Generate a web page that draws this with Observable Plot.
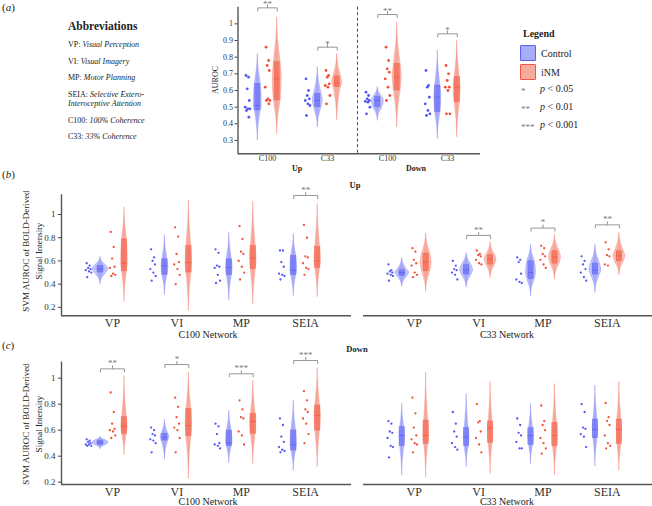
<!DOCTYPE html>
<html><head><meta charset="utf-8">
<script src="https://cdn.jsdelivr.net/npm/d3@7"></script>
<script src="https://cdn.jsdelivr.net/npm/@observablehq/plot@0.6"></script>
<style>
body{margin:0;background:#fff;}
#fig{position:relative;width:652px;height:506px;font-family:"Liberation Serif","Times New Roman",serif;color:#222;overflow:hidden;background:#fff}
.abs{position:absolute;white-space:nowrap;line-height:1}
</style></head>
<body><div id="fig"></div>
<script>
// ---------------- DATA ----------------
const series = ["Control", "iNM"];
const groupsA = ["C100", "C33", "C100", "C33"];
const directionsA = ["Up", "Down"];
const tasks = ["VP", "VI", "MP", "SEIA"];
const yTicksA = [0.3, 0.4, 0.5, 0.6, 0.7, 0.8, 0.9, 1];
const yTicksBC = [0.2, 0.4, 0.6, 0.8, 1];
const abbrevKeys = ["VP:", "VI:", "MP:", "SEIA:", "", "C100:", "C33:"];
const abbrevVals = ["Visual Perception", "Visual Imagery", "Motor Planning", "Selective Extero-", "Interoceptive Attention", "100% <i>Coherence</i>", "33% <i>Coherence</i>"];
const legendSig = ["*", "**", "***"];
const legendP = ["0.05", "0.01", "0.001"];

// violin summaries: [min, q1, median, q3, max, density width]
// Panel (a): C100 Up, C33 Up, C100 Down, C33 Down
const aControlViolin = [[0.30,0.48,0.51,0.64,0.82,4],[0.38,0.50,0.54,0.58,0.74,5],[0.42,0.50,0.54,0.56,0.62,6],[0.31,0.47,0.56,0.63,0.84,3.5]];
const aINMViolin = [[0.34,0.54,0.67,0.77,1.04,4.5],[0.42,0.62,0.645,0.685,0.82,5],[0.38,0.60,0.68,0.76,1.01,4.5],[0.32,0.53,0.62,0.68,0.90,3.5]];
const aControlPts = [[0.69,0.68,0.61,0.54,0.50,0.49,0.49,0.48,0.44],[0.67,0.60,0.57,0.55,0.54,0.52,0.51,0.45],[0.59,0.57,0.55,0.54,0.535,0.53,0.50,0.46],[0.72,0.63,0.62,0.56,0.52,0.48,0.46,0.45]];
const aINMPts = [[0.86,0.78,0.75,0.72,0.62,0.55,0.54,0.54,0.52],[0.72,0.69,0.68,0.64,0.63,0.62,0.57,0.52],[0.86,0.78,0.73,0.71,0.67,0.62,0.57,0.54],[0.75,0.70,0.66,0.62,0.62,0.60,0.46,0.46]];
const aSig = [[0,1.096,"**"],[1,0.86,"*"],[2,1.056,"**"],[3,0.94,"*"]];

// Panel (b) Up, C100 network
const upC100ControlViolin = [[0.40,0.50,0.53,0.557,0.634,8],[0.31,0.48,0.557,0.614,0.826,3.4],[0.26,0.477,0.543,0.614,0.843,3.4],[0.30,0.477,0.52,0.643,0.834,3.4]];
const upC100INMViolin = [[0.25,0.51,0.58,0.786,1.063,3.3],[0.17,0.50,0.586,0.729,1.12,3.3],[0.226,0.529,0.626,0.729,1.11,3.3],[0.29,0.54,0.60,0.72,1.09,3.3]];
const upC100ControlPts = [[0.58,0.56,0.54,0.53,0.52,0.51,0.50,0.46],[0.70,0.63,0.60,0.57,0.53,0.50,0.47,0.43],[0.70,0.67,0.56,0.55,0.54,0.48,0.43,0.41],[0.69,0.69,0.59,0.55,0.49,0.48,0.47,0.44]];
const upC100INMPts = [[0.85,0.72,0.62,0.55,0.54,0.49,0.48,0.47],[0.89,0.81,0.66,0.59,0.57,0.53,0.48,0.40],[0.90,0.79,0.68,0.66,0.60,0.55,0.50,0.44],[0.91,0.80,0.64,0.63,0.58,0.54,0.53,0.48]];
const upC100Sig = [[3,1.164,"**"]];

// Panel (b) Up, C33 network
const upC33ControlViolin = [[0.377,0.471,0.50,0.52,0.626,7],[0.371,0.483,0.52,0.563,0.669,6.5],[0.297,0.443,0.50,0.597,0.74,5],[0.329,0.483,0.52,0.577,0.74,6]];
const upC33INMViolin = [[0.334,0.511,0.591,0.663,0.84,5.5],[0.454,0.569,0.614,0.649,0.763,6],[0.443,0.577,0.634,0.683,0.826,6],[0.477,0.597,0.643,0.683,0.843,6]];
const upC33ControlPts = [[0.57,0.52,0.51,0.50,0.49,0.48,0.47,0.43],[0.60,0.56,0.53,0.52,0.50,0.48,0.44],[0.63,0.61,0.59,0.49,0.44,0.42,0.41],[0.64,0.60,0.57,0.53,0.50,0.46,0.43]];
const upC33INMPts = [[0.71,0.68,0.61,0.58,0.56,0.50,0.48,0.46],[0.69,0.66,0.65,0.64,0.61,0.58,0.57],[0.73,0.71,0.66,0.64,0.61,0.57,0.54],[0.76,0.70,0.65,0.64,0.57,0.56]];
const upC33Sig = [[1,0.82,"**"],[2,0.883,"*"],[3,0.911,"**"]];

// Panel (c) Down, C100 network
const downC100ControlViolin = [[0.456,0.487,0.503,0.52,0.549,8],[0.374,0.52,0.546,0.572,0.682,4.5],[0.349,0.477,0.503,0.597,0.751,3.2],[0.29,0.444,0.487,0.597,0.828,3.2]];
const downC100INMViolin = [[0.41,0.572,0.631,0.70,1.015,3.2],[0.226,0.554,0.636,0.764,1.046,3.2],[0.341,0.572,0.667,0.726,0.982,3.2],[0.315,0.597,0.713,0.79,1.077,3.2]];
const downC100ControlPts = [[0.53,0.52,0.51,0.50,0.49,0.49,0.48,0.48],[0.62,0.60,0.57,0.56,0.53,0.52,0.50,0.43],[0.65,0.63,0.57,0.50,0.49,0.48,0.46],[0.69,0.64,0.55,0.51,0.47,0.45,0.44,0.43]];
const downC100INMPts = [[0.89,0.74,0.65,0.61,0.60,0.59,0.56,0.54],[0.85,0.78,0.70,0.65,0.62,0.60,0.54,0.43],[0.83,0.76,0.70,0.69,0.59,0.56,0.49],[0.90,0.83,0.76,0.74,0.69,0.65,0.57,0.50]];
const downC100Sig = [[0,1.072,"**"],[1,1.105,"*"],[2,1.034,"***"],[3,1.136,"***"]];

// Panel (c) Down, C33 network
const downC33ControlViolin = [[0.251,0.477,0.559,0.623,0.803,2.7],[0.315,0.477,0.546,0.615,0.879,2.7],[0.341,0.487,0.559,0.615,0.803,2.7],[0.323,0.538,0.605,0.682,0.944,2.7]];
const downC33INMViolin = [[0.238,0.495,0.559,0.674,1.046,2.7],[0.264,0.503,0.615,0.667,0.974,2.7],[0.256,0.477,0.559,0.656,0.956,2.7],[0.29,0.495,0.605,0.682,0.974,2.7]];
const downC33ControlPts = [[0.67,0.65,0.59,0.58,0.54,0.48,0.47,0.39],[0.74,0.65,0.59,0.55,0.50,0.47,0.45],[0.69,0.64,0.58,0.56,0.51,0.46,0.46],[0.80,0.74,0.62,0.61,0.57,0.55,0.47]];
const downC33INMPts = [[0.85,0.73,0.62,0.56,0.53,0.50,0.49,0.43],[0.80,0.67,0.66,0.59,0.54,0.49,0.43],[0.79,0.67,0.64,0.60,0.54,0.50,0.46,0.42],[0.81,0.70,0.67,0.64,0.56,0.50,0.48,0.46]];
const downC33Sig = [];

// ---------------- DRAWING ----------------
const FONT = '"Liberation Serif", "Times New Roman", serif';
const BLUE = "#5258f4", RED = "#f24f36";
const jitter = [-0.5, 0.35, -0.1, 0.6, -0.75, 0.15, 0.8, -0.35, 0.45];
const fig = document.getElementById("fig");

function txt(html, x, y, o = {}) {
  const d = document.createElement("div");
  d.className = "abs";
  d.innerHTML = html;
  d.style.left = x + "px"; d.style.top = y + "px";
  d.style.fontSize = (o.size || 10) + "px";
  if (o.bold) d.style.fontWeight = "bold";
  if (o.italic) d.style.fontStyle = "italic";
  if (o.color) d.style.color = o.color;
  let tf = o.anchor === "middle" ? "translate(-50%,-50%)" : "translate(0,-50%)";
  if (o.rotate) tf += " rotate(-90deg)";
  d.style.transform = tf;
  fig.appendChild(d);
  return d;
}
function mount(el, left, top) {
  el.style.position = "absolute"; el.style.left = left + "px"; el.style.top = top + "px";
  fig.appendChild(el);
}

function panel(c) {
  const violins = [], inner = [], boxes = [], pts = [], links = [];
  const bw = 2.7 / c.spacing;
  [["Control", c.ctrlV, c.ctrlP, -c.vOff, c.dOff], ["iNM", c.inmV, c.inmP, c.vOff, 0]].forEach(([s, V, P, vo, po]) => {
    V.forEach((r, i) => {
      const [lo, q1, med, q3, hi, w] = r;
      const cx = i + vo, ww = w / c.spacing, id = s + i;
      const prof = [[lo, 0], [lo + (q1 - lo) * 0.5, 0.2], [q1, 0.75], [med, 1], [q3, 0.75], [q3 + (hi - q3) * 0.5, 0.2], [hi, 0]];
      prof.forEach(([v, f]) => {
        violins.push({id, s, v, xl: cx - ww * f, xr: cx + ww * f});
        inner.push({id, s, v, xl: cx - ww * f * 0.55, xr: cx + ww * f * 0.55});
      });
      boxes.push({s, x1: cx - bw, x2: cx + bw, q1, q3, med});
      P[i].forEach((v, k) => pts.push({s, v, x: i + po + jitter[k % jitter.length] * c.jit / c.spacing}));
    });
  });
  const tick = 3.5 / c.pxPerV;
  c.sig.forEach(([i, b]) => {
    const xa = i - c.vOff, xb = i + c.vOff;
    links.push({x1: xa, y1: b, x2: xb, y2: b});
    links.push({x1: xa, y1: b, x2: xa, y2: b - tick});
    links.push({x1: xb, y1: b, x2: xb, y2: b - tick});
    links.push({x1: i, y1: b, x2: i, y2: b + tick});
  });
  const marks = [];
  if (c.showY) {
    marks.push(Plot.axisY(c.yTicks, {tickSize: c.yTickSize, tickPadding: c.yTickPad, fontSize: c.yFont, tickFormat: d => String(+d.toFixed(1)), stroke: "#444", label: null}));
    marks.push(Plot.ruleX([c.xDomain[0]], {stroke: "#555", strokeWidth: 1.4}));
  }
  marks.push(Plot.axisX(d3.range(c.cats.length), {tickSize: 0, tickPadding: c.xTickPad, fontSize: c.xFont, tickFormat: i => c.cats[i], label: null}));
  marks.push(Plot.ruleY([c.yDomain[0]], {stroke: "#555", strokeWidth: 1.4}));
  if (c.extra) marks.push(...c.extra);
  marks.push(
    Plot.areaX(violins, {y: "v", x1: "xl", x2: "xr", z: "id", fill: "s", fillOpacity: 0.36, stroke: "s", strokeOpacity: 0.5, strokeWidth: 0.5, curve: "monotone-y"}),
    Plot.areaX(inner, {y: "v", x1: "xl", x2: "xr", z: "id", fill: "s", fillOpacity: 0.25, curve: "monotone-y"}),
    Plot.rect(boxes, {x1: "x1", x2: "x2", y1: "q1", y2: "q3", fill: "s", fillOpacity: 0.5, stroke: "s", strokeOpacity: 0.6, strokeWidth: 0.5}),
    Plot.ruleY(boxes, {y: "med", x1: "x1", x2: "x2", stroke: "s", strokeOpacity: 0.9, strokeWidth: 0.7}),
    Plot.dot(pts, {x: "x", y: "v", r: c.dotR, fill: "s", stroke: null}),
    Plot.link(links, {x1: "x1", y1: "y1", x2: "x2", y2: "y2", stroke: "#8a8a8a", strokeWidth: 0.9}),
    Plot.text(c.sig, {x: d => d[0], y: d => d[1], text: d => d[2], dy: c.starDy, fontSize: 9, fill: "#777"})
  );
  return Plot.plot({
    width: c.width, height: c.height,
    marginLeft: c.mL, marginRight: c.mR, marginTop: c.mT, marginBottom: c.mB,
    x: {domain: c.xDomain},
    y: c.showY ? {domain: c.yDomain} : {domain: c.yDomain, axis: null},
    color: {domain: series, range: [BLUE, RED]},
    style: {fontFamily: FONT, color: "#333", background: "transparent", overflow: "visible"},
    marks
  });
}

// Panel (a)
mount(panel({
  cats: groupsA, ctrlV: aControlViolin, inmV: aINMViolin, ctrlP: aControlPts, inmP: aINMPts, sig: aSig,
  width: 290, height: 180, mL: 37.5, mR: 10, mT: 6.7, mB: 26.7,
  yDomain: [0.22, 1.1], xDomain: [-29.5 / 60, 213 / 60], yTicks: yTicksA, showY: true,
  spacing: 60, vOff: 0.162, dOff: -0.333, pxPerV: 166.7, jit: 3, dotR: 1.4,
  yFont: 8, xFont: 8, yTickSize: 3, yTickPad: 2, xTickPad: 2, starDy: -3.5,
  extra: [Plot.ruleX([(groupsA.length - 1) / 2], {stroke: "#333", strokeDasharray: "3,2.5", strokeWidth: 0.9})]
}), 200, 0);

const bcCommon = {spacing: 64.4, vOff: 0.186, dOff: -0.373, jit: 3.5, dotR: 1.15, yFont: 9, xFont: 12,
  yTickSize: 3, yTickPad: 3, xTickPad: 3, starDy: -5.5, yTicks: yTicksBC, cats: tasks};

mount(panel({...bcCommon, ctrlV: upC100ControlViolin, inmV: upC100INMViolin, ctrlP: upC100ControlPts, inmP: upC100INMPts, sig: upC100Sig,
  width: 352, height: 150, mL: 61, mR: 1, mT: 14.3, mB: 14.8, yDomain: [0.128, 1.17], xDomain: [-51 / 64.4, 239 / 64.4], showY: true, pxPerV: 116}), 0, 180);
mount(panel({...bcCommon, ctrlV: upC33ControlViolin, inmV: upC33INMViolin, ctrlP: upC33ControlPts, inmP: upC33INMPts, sig: upC33Sig,
  width: 300, height: 150, mL: 11, mR: 0, mT: 14.3, mB: 14.8, yDomain: [0.128, 1.17], xDomain: [-50.7 / 64.4, 238.3 / 64.4], showY: false, pxPerV: 116}), 352, 180);
mount(panel({...bcCommon, ctrlV: downC100ControlViolin, inmV: downC100INMViolin, ctrlP: downC100ControlPts, inmP: downC100INMPts, sig: downC100Sig,
  width: 352, height: 155, mL: 61, mR: 1, mT: 16.6, mB: 16, yDomain: [0.182, 1.124], xDomain: [-51 / 64.4, 239 / 64.4], showY: true, pxPerV: 130}), 0, 345);
mount(panel({...bcCommon, ctrlV: downC33ControlViolin, inmV: downC33INMViolin, ctrlP: downC33ControlPts, inmP: downC33INMPts, sig: downC33Sig,
  width: 300, height: 155, mL: 11, mR: 0, mT: 16.6, mB: 16, yDomain: [0.182, 1.124], xDomain: [-50.7 / 64.4, 238.3 / 64.4], showY: false, pxPerV: 130}), 352, 345);

// ---------------- TEXT ----------------
txt("(<i>a</i>)", 2, 7, {size: 11});
txt("(<i>b</i>)", 2, 174, {size: 11});
txt("(<i>c</i>)", 2, 345, {size: 11});

txt("Abbreviations", 68, 27, {size: 11.5, bold: true});
const abbrevY = [45, 62, 78, 95, 104, 121, 137];
abbrevKeys.forEach((k, i) => txt((k ? k + " " : "") + "<i>" + abbrevVals[i] + "</i>", 68, abbrevY[i], {size: 8}));

txt("AUROC", 216, 80, {size: 8, anchor: "middle", rotate: true});
txt(directionsA[0], 297, 169, {size: 8, bold: true, anchor: "middle"});
txt(directionsA[1], 416, 169, {size: 8, bold: true, anchor: "middle"});

txt("Up", 355, 185, {size: 8.5, bold: true, anchor: "middle"});
txt("Down", 357, 349, {size: 8.5, bold: true, anchor: "middle"});
txt("C100 Network", 208, 335, {size: 10, anchor: "middle"});
txt("C33 Network", 507, 335, {size: 10, anchor: "middle"});
txt("C100 Network", 208, 502, {size: 10, anchor: "middle"});
txt("C33 Network", 507, 502, {size: 10, anchor: "middle"});
[[250.5], [424]].forEach(([cy]) => {
  txt("SVM AUROC of BOLD-Derived", 26, cy, {size: 9, anchor: "middle", rotate: true});
  txt("Signal Intensity", 39, cy, {size: 9, anchor: "middle", rotate: true});
});

// Legend
txt("Legend", 523, 34, {size: 10, bold: true});
const sw = [["#a9adf7", "#5a63f0"], ["#f6aa9c", "#ef5a43"]];
series.forEach((s, i) => {
  const b = document.createElement("div");
  b.style.cssText = `position:absolute;left:520px;top:${45 + i * 19}px;width:14px;height:14px;background:${sw[i][0]};border:1.5px solid ${sw[i][1]};border-radius:1px`;
  fig.appendChild(b);
  txt(s, 541, 54 + i * 18.5, {size: 10});
});
legendSig.forEach((st, i) => {
  txt(st, 521, 91 + i * 18, {size: 9, color: "#777"});
  txt("<i>p</i> &lt; " + legendP[i], 540, 89 + i * 18, {size: 10});
});
</script></body></html>
